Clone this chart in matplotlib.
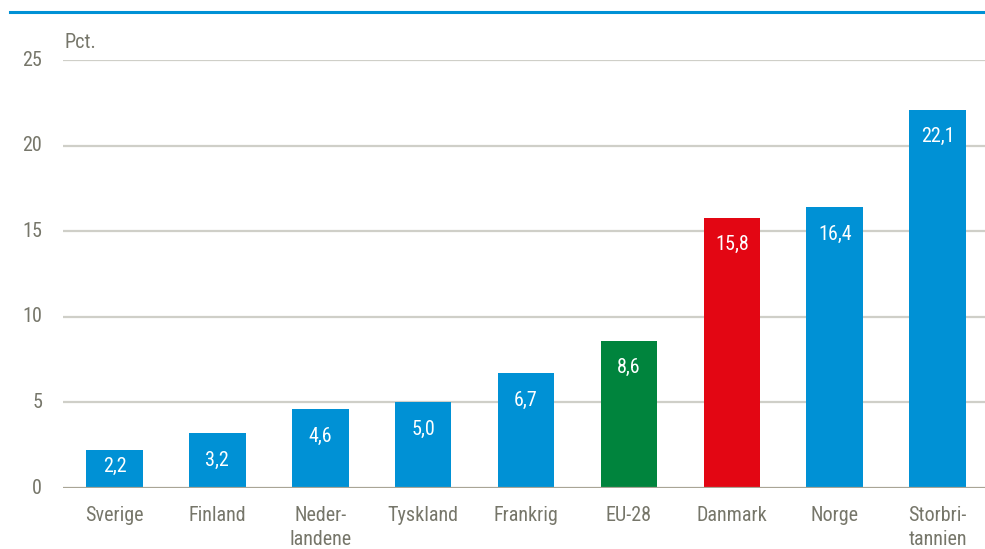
import matplotlib
matplotlib.use("Agg")
import matplotlib.pyplot as plt
from matplotlib import font_manager

# Data
countries = ["Sverige", "Finland", "Neder-\nlandene", "Tyskland", "Frankrig",
             "EU-28", "Danmark", "Norge", "Storbri-\ntannien"]
values = [2.2, 3.2, 4.6, 5.0, 6.7, 8.6, 15.8, 16.4, 22.1]
value_labels = ["2,2", "3,2", "4,6", "5,0", "6,7", "8,6", "15,8", "16,4", "22,1"]
yticks = [0, 5, 10, 15, 20, 25]

BLUE = "#0091d5"
GREEN = "#00843d"
RED = "#e30613"
colors = [BLUE] * 9
colors[countries.index("EU-28")] = GREEN
colors[countries.index("Danmark")] = RED

TEXT = "#76766a"

# prefer a narrow sans face when one is installed
fonts = font_manager.fontManager.ttflist
narrow = None
for pref in ["Liberation Sans Narrow", "Arial Narrow", "Roboto Condensed",
             "Open Sans Condensed", "DejaVu Sans Condensed", "Noto Sans Condensed"]:
    if any(f.name == pref for f in fonts):
        narrow = (pref, "normal")
        break
if narrow is None:
    for f in fonts:
        st = str(f.stretch)
        if f.name in ("Roboto", "Open Sans", "Noto Sans", "DejaVu Sans", "Liberation Sans") and \
                st in ("condensed", "semi-condensed", "extra-condensed", "600", "700", "500", "ultra-condensed") \
                and f.style == "normal" and f.weight in (400, "normal", "regular"):
            narrow = (f.name, st)
            break

if narrow is not None:
    plt.rcParams["font.family"] = [narrow[0], "DejaVu Sans"]
    plt.rcParams["font.stretch"] = narrow[1]
    FS = 14.5
else:
    plt.rcParams["font.family"] = ["Liberation Sans", "DejaVu Sans"]
    FS = 13.5

W, H = 985, 549
fig = plt.figure(figsize=(W / 100, H / 100), dpi=100)
ax = fig.add_axes([63 / W, 61 / H, 1 - 63 / W, (488 - 60) / H])

x = list(range(len(countries)))
ax.bar(x, values, width=0.55, color=colors, zorder=3)

ax.set_ylim(0, 25)
ax.set_xlim(-0.5, 8.46)
ax.set_yticks(yticks)
ax.set_yticklabels([str(t) for t in yticks])
ax.set_xticks(x)
ax.set_xticklabels(countries, linespacing=1.3)

for t in yticks[1:]:
    ax.axhline(t, color="#cfcfc8", lw=1.6, zorder=1)
ax.axhline(0, color="#a9a596", lw=1.6, zorder=4)

for s in ax.spines.values():
    s.set_visible(False)
ax.tick_params(axis="both", length=0, labelsize=FS, colors=TEXT)
ax.tick_params(axis="y", pad=15)
ax.tick_params(axis="x", pad=13)
for lbl in ax.get_yticklabels():
    lbl.set_verticalalignment("center")

# value labels inside the bars
ppu = (488 - 60) / 25.0
for xi, v, lab in zip(x, values, value_labels):
    h_px = v * ppu
    off = 27 if h_px > 48 else 16
    ax.annotate(lab, (xi, v), xytext=(0, -off * 0.72), textcoords="offset points",
                ha="center", va="center", color="white", fontsize=FS, zorder=5)

fig.text(65 / W, 1 - 43 / H, "Pct.", color=TEXT, fontsize=FS, va="center", ha="left")

# header rule
fig.add_artist(plt.Line2D([10 / W, 1.0], [1 - 12 / H, 1 - 12 / H], color="#0091d5", lw=2.2,
                          transform=fig.transFigure))

fig.savefig("out.png", dpi=100)
